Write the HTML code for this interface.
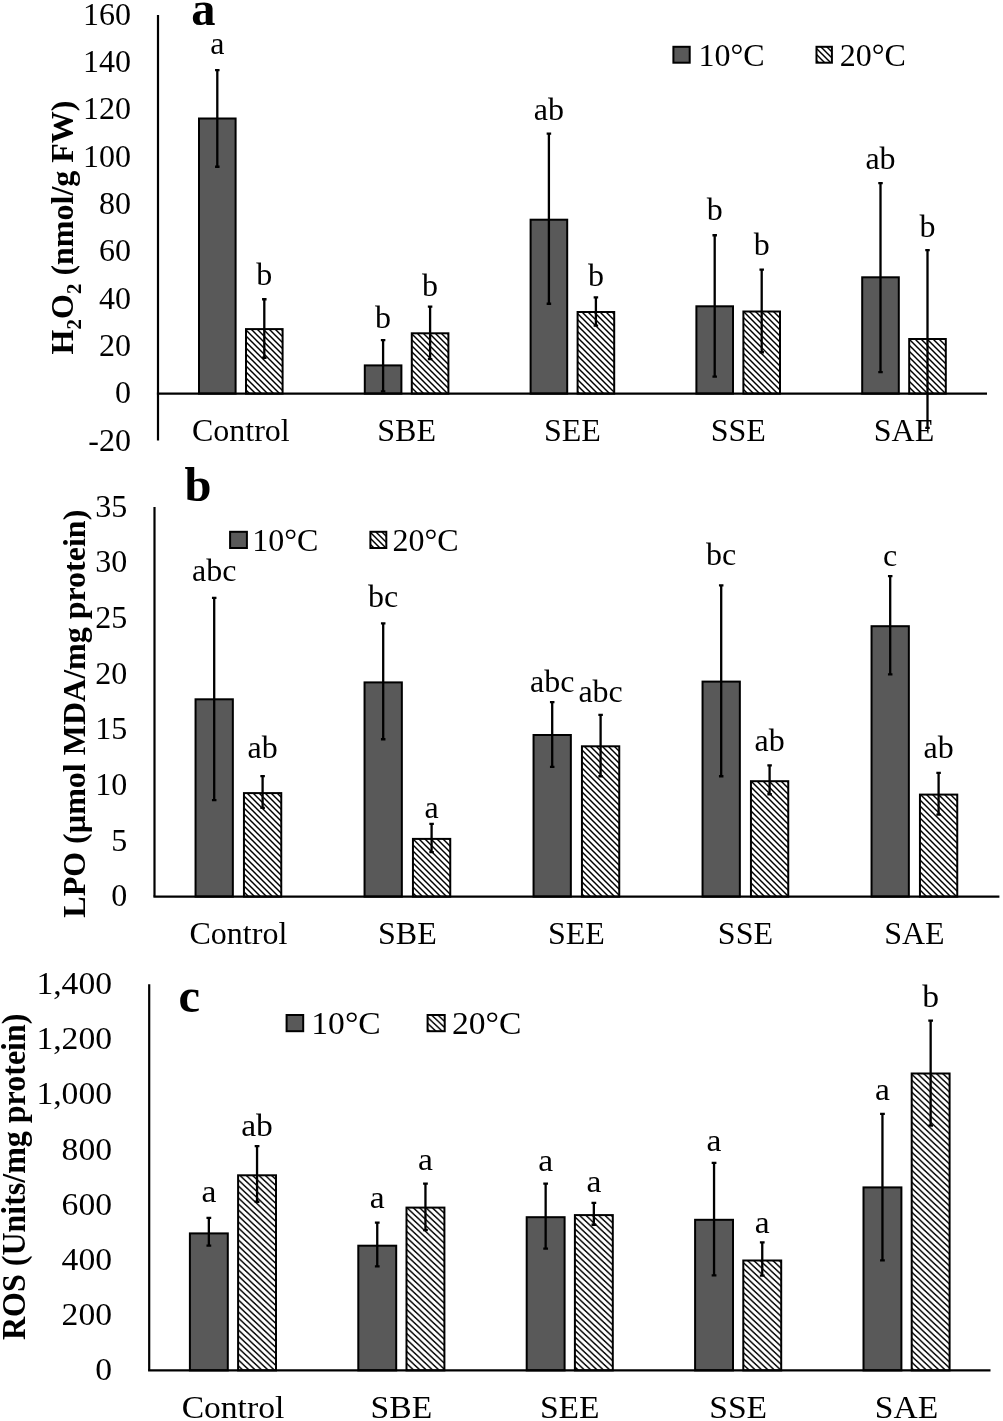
<!DOCTYPE html>
<html><head><meta charset="utf-8"><title>Chart</title>
<style>html,body{margin:0;padding:0;background:#fff;}svg{display:block;filter:grayscale(1);}text{font-family:"Liberation Serif",serif;fill:#000;}.b{font-weight:bold;}</style>
</head><body>
<svg width="1003" height="1421" viewBox="0 0 1003 1421">
<defs><pattern id="h" patternUnits="userSpaceOnUse" width="6" height="6"><rect width="6" height="6" fill="#fff"/><path d="M-1,-1 L7,7 M-1,5 L1,7 M5,-1 L7,1" stroke="#000" stroke-width="1.45"/></pattern><pattern id="hc" patternUnits="userSpaceOnUse" width="6.33" height="6"><rect width="6.33" height="6" fill="#fff"/><path d="M-1.055,-1 L7.385,7 M-1.055,5 L1.055,7 M5.275,-1 L7.385,1" stroke="#000" stroke-width="1.45"/></pattern></defs>
<rect width="1003" height="1421" fill="#fff"/>
<rect x="199" y="118.5" width="36.6" height="275.1" fill="#595959" stroke="#000" stroke-width="2"/>
<rect x="246" y="329.1" width="36.6" height="64.5" fill="url(#h)" stroke="#000" stroke-width="2"/>
<rect x="364.8" y="365.4" width="36.6" height="28.2" fill="#595959" stroke="#000" stroke-width="2"/>
<rect x="411.8" y="333.3" width="36.6" height="60.3" fill="url(#h)" stroke="#000" stroke-width="2"/>
<rect x="530.6" y="219.7" width="36.6" height="173.9" fill="#595959" stroke="#000" stroke-width="2"/>
<rect x="577.6" y="312" width="36.6" height="81.6" fill="url(#h)" stroke="#000" stroke-width="2"/>
<rect x="696.4" y="306.3" width="36.6" height="87.3" fill="#595959" stroke="#000" stroke-width="2"/>
<rect x="743.4" y="311.5" width="36.6" height="82.1" fill="url(#h)" stroke="#000" stroke-width="2"/>
<rect x="862.2" y="277.3" width="36.6" height="116.3" fill="#595959" stroke="#000" stroke-width="2"/>
<rect x="909.2" y="339" width="36.6" height="54.6" fill="url(#h)" stroke="#000" stroke-width="2"/>
<line x1="158" y1="15" x2="158" y2="440.5" stroke="#000" stroke-width="2.2"/>
<line x1="156.9" y1="393.6" x2="987" y2="393.6" stroke="#000" stroke-width="2.2"/>
<path d="M217.3,68.9V167.9M215.05,70.05H219.55M215.05,166.75H219.55" stroke="#000" stroke-width="2.3" fill="none"/>
<text x="217.3" y="54.2" text-anchor="middle" font-size="32">a</text>
<path d="M264.3,298.1V358.9M262.05,299.25H266.55M262.05,357.75H266.55" stroke="#000" stroke-width="2.3" fill="none"/>
<text x="264.3" y="284.9" text-anchor="middle" font-size="32">b</text>
<path d="M383.1,339V392.5M380.85,340.15H385.35M380.85,391.35H385.35" stroke="#000" stroke-width="2.3" fill="none"/>
<text x="383.1" y="328.4" text-anchor="middle" font-size="32">b</text>
<path d="M430.1,305.5V360.2M427.85,306.65H432.35M427.85,359.05H432.35" stroke="#000" stroke-width="2.3" fill="none"/>
<text x="430.1" y="296.4" text-anchor="middle" font-size="32">b</text>
<path d="M548.9,132.5V304.9M546.65,133.65H551.15M546.65,303.75H551.15" stroke="#000" stroke-width="2.3" fill="none"/>
<text x="548.9" y="119.6" text-anchor="middle" font-size="32">ab</text>
<path d="M595.9,296.2V326.7M593.65,297.35H598.15M593.65,325.55H598.15" stroke="#000" stroke-width="2.3" fill="none"/>
<text x="595.9" y="286.4" text-anchor="middle" font-size="32">b</text>
<path d="M714.7,234.1V377.8M712.45,235.25H716.95M712.45,376.65H716.95" stroke="#000" stroke-width="2.3" fill="none"/>
<text x="714.7" y="220.4" text-anchor="middle" font-size="32">b</text>
<path d="M761.7,268.4V353.4M759.45,269.55H763.95M759.45,352.25H763.95" stroke="#000" stroke-width="2.3" fill="none"/>
<text x="761.7" y="255.1" text-anchor="middle" font-size="32">b</text>
<path d="M880.5,181.9V373.2M878.25,183.05H882.75M878.25,372.05H882.75" stroke="#000" stroke-width="2.3" fill="none"/>
<text x="880.5" y="169.4" text-anchor="middle" font-size="32">ab</text>
<path d="M927.5,248.9V429M925.25,250.05H929.75M925.25,427.85H929.75" stroke="#000" stroke-width="2.3" fill="none"/>
<text x="927.5" y="237.4" text-anchor="middle" font-size="32">b</text>
<text x="131" y="450.73" text-anchor="end" font-size="32">-20</text>
<text x="131" y="403.4" text-anchor="end" font-size="32">0</text>
<text x="131" y="356.07" text-anchor="end" font-size="32">20</text>
<text x="131" y="308.74" text-anchor="end" font-size="32">40</text>
<text x="131" y="261.41" text-anchor="end" font-size="32">60</text>
<text x="131" y="214.08" text-anchor="end" font-size="32">80</text>
<text x="131" y="166.75" text-anchor="end" font-size="32">100</text>
<text x="131" y="119.42" text-anchor="end" font-size="32">120</text>
<text x="131" y="72.09" text-anchor="end" font-size="32">140</text>
<text x="131" y="24.76" text-anchor="end" font-size="32">160</text>
<text x="240.8" y="440.8" text-anchor="middle" font-size="32">Control</text>
<text x="406.6" y="440.8" text-anchor="middle" font-size="32">SBE</text>
<text x="572.4" y="440.8" text-anchor="middle" font-size="32">SEE</text>
<text x="738.2" y="440.8" text-anchor="middle" font-size="32">SSE</text>
<text x="904" y="440.8" text-anchor="middle" font-size="32">SAE</text>
<rect x="673.4" y="46.8" width="16.3" height="15.9" fill="#595959" stroke="#000" stroke-width="2"/>
<text x="698.4" y="66" font-size="32">10&#176;C</text>
<rect x="816.5" y="46.8" width="15.4" height="15.9" fill="url(#h)" stroke="#000" stroke-width="2"/>
<text x="839.7" y="66" font-size="32">20&#176;C</text>
<text class="b" x="191.3" y="25.3" style="font-size:48.5px">a</text>
<text class="b" transform="translate(73.2,354.4) rotate(-90)" font-size="32">H<tspan font-size="21" dy="7.6">2</tspan><tspan dy="-7.6">O</tspan><tspan font-size="21" dy="7.6">2</tspan><tspan dy="-7.6"> (nmol/g FW)</tspan></text>
<rect x="195.55" y="699.3" width="37.3" height="197.3" fill="#595959" stroke="#000" stroke-width="2"/>
<rect x="243.95" y="793.1" width="37.3" height="103.5" fill="url(#h)" stroke="#000" stroke-width="2"/>
<rect x="364.55" y="682.4" width="37.3" height="214.2" fill="#595959" stroke="#000" stroke-width="2"/>
<rect x="412.95" y="838.9" width="37.3" height="57.7" fill="url(#h)" stroke="#000" stroke-width="2"/>
<rect x="533.55" y="735" width="37.3" height="161.6" fill="#595959" stroke="#000" stroke-width="2"/>
<rect x="581.95" y="746.3" width="37.3" height="150.3" fill="url(#h)" stroke="#000" stroke-width="2"/>
<rect x="702.55" y="681.6" width="37.3" height="215" fill="#595959" stroke="#000" stroke-width="2"/>
<rect x="750.95" y="781.2" width="37.3" height="115.4" fill="url(#h)" stroke="#000" stroke-width="2"/>
<rect x="871.55" y="626.2" width="37.3" height="270.4" fill="#595959" stroke="#000" stroke-width="2"/>
<rect x="919.95" y="794.6" width="37.3" height="102" fill="url(#h)" stroke="#000" stroke-width="2"/>
<line x1="154.5" y1="507" x2="154.5" y2="896.6" stroke="#000" stroke-width="2.2"/>
<line x1="153.4" y1="896.6" x2="999.4" y2="896.6" stroke="#000" stroke-width="2.2"/>
<path d="M214.2,596.8V801.2M211.95,597.95H216.45M211.95,800.05H216.45" stroke="#000" stroke-width="2.3" fill="none"/>
<text x="214.2" y="581.2" text-anchor="middle" font-size="32">abc</text>
<path d="M262.6,774.9V809.1M260.35,776.05H264.85M260.35,807.95H264.85" stroke="#000" stroke-width="2.3" fill="none"/>
<text x="262.6" y="757.8" text-anchor="middle" font-size="32">ab</text>
<path d="M383.2,622.3V740.4M380.95,623.45H385.45M380.95,739.25H385.45" stroke="#000" stroke-width="2.3" fill="none"/>
<text x="383.2" y="607.2" text-anchor="middle" font-size="32">bc</text>
<path d="M431.6,822.8V853.2M429.35,823.95H433.85M429.35,852.05H433.85" stroke="#000" stroke-width="2.3" fill="none"/>
<text x="431.6" y="818" text-anchor="middle" font-size="32">a</text>
<path d="M552.2,700.9V768.1M549.95,702.05H554.45M549.95,766.95H554.45" stroke="#000" stroke-width="2.3" fill="none"/>
<text x="552.2" y="691.5" text-anchor="middle" font-size="32">abc</text>
<path d="M600.6,713.7V777.4M598.35,714.85H602.85M598.35,776.25H602.85" stroke="#000" stroke-width="2.3" fill="none"/>
<text x="600.6" y="702.3" text-anchor="middle" font-size="32">abc</text>
<path d="M721.2,584.3V777.4M718.95,585.45H723.45M718.95,776.25H723.45" stroke="#000" stroke-width="2.3" fill="none"/>
<text x="721.2" y="565" text-anchor="middle" font-size="32">bc</text>
<path d="M769.6,764.2V795.4M767.35,765.35H771.85M767.35,794.25H771.85" stroke="#000" stroke-width="2.3" fill="none"/>
<text x="769.6" y="751.3" text-anchor="middle" font-size="32">ab</text>
<path d="M890.2,574.9V675.5M887.95,576.05H892.45M887.95,674.35H892.45" stroke="#000" stroke-width="2.3" fill="none"/>
<text x="890.2" y="565.7" text-anchor="middle" font-size="32">c</text>
<path d="M938.6,771.7V815.7M936.35,772.85H940.85M936.35,814.55H940.85" stroke="#000" stroke-width="2.3" fill="none"/>
<text x="938.6" y="758" text-anchor="middle" font-size="32">ab</text>
<text x="127.3" y="906.4" text-anchor="end" font-size="32">0</text>
<text x="127.3" y="850.74" text-anchor="end" font-size="32">5</text>
<text x="127.3" y="795.08" text-anchor="end" font-size="32">10</text>
<text x="127.3" y="739.42" text-anchor="end" font-size="32">15</text>
<text x="127.3" y="683.76" text-anchor="end" font-size="32">20</text>
<text x="127.3" y="628.1" text-anchor="end" font-size="32">25</text>
<text x="127.3" y="572.44" text-anchor="end" font-size="32">30</text>
<text x="127.3" y="516.78" text-anchor="end" font-size="32">35</text>
<text x="238.4" y="943.6" text-anchor="middle" font-size="32">Control</text>
<text x="407.4" y="943.6" text-anchor="middle" font-size="32">SBE</text>
<text x="576.4" y="943.6" text-anchor="middle" font-size="32">SEE</text>
<text x="745.4" y="943.6" text-anchor="middle" font-size="32">SSE</text>
<text x="914.4" y="943.6" text-anchor="middle" font-size="32">SAE</text>
<rect x="230.1" y="531.8" width="16.8" height="16.2" fill="#595959" stroke="#000" stroke-width="2"/>
<text x="252.2" y="551.3" font-size="32">10&#176;C</text>
<rect x="370.4" y="531.8" width="15.9" height="16.2" fill="url(#h)" stroke="#000" stroke-width="2"/>
<text x="392.4" y="551.3" font-size="32">20&#176;C</text>
<text class="b" x="184.6" y="500.5" style="font-size:48.5px">b</text>
<text class="b" transform="translate(85,917.7) rotate(-90)" font-size="32">LPO (&#181;mol MDA/mg protein)</text>
<rect x="189.9" y="1233.4" width="37.9" height="137" fill="#595959" stroke="#000" stroke-width="2"/>
<rect x="238.1" y="1175.3" width="37.9" height="195.1" fill="url(#hc)" stroke="#000" stroke-width="2"/>
<rect x="358.3" y="1245.7" width="37.9" height="124.7" fill="#595959" stroke="#000" stroke-width="2"/>
<rect x="406.5" y="1207.6" width="37.9" height="162.8" fill="url(#hc)" stroke="#000" stroke-width="2"/>
<rect x="526.7" y="1217.2" width="37.9" height="153.2" fill="#595959" stroke="#000" stroke-width="2"/>
<rect x="574.9" y="1215.1" width="37.9" height="155.3" fill="url(#hc)" stroke="#000" stroke-width="2"/>
<rect x="695.1" y="1219.8" width="37.9" height="150.6" fill="#595959" stroke="#000" stroke-width="2"/>
<rect x="743.3" y="1260.5" width="37.9" height="109.9" fill="url(#hc)" stroke="#000" stroke-width="2"/>
<rect x="863.5" y="1187.4" width="37.9" height="183" fill="#595959" stroke="#000" stroke-width="2"/>
<rect x="911.7" y="1073.5" width="37.9" height="296.9" fill="url(#hc)" stroke="#000" stroke-width="2"/>
<line x1="149.2" y1="984.2" x2="149.2" y2="1370.4" stroke="#000" stroke-width="2.2"/>
<line x1="148.1" y1="1370.4" x2="990.5" y2="1370.4" stroke="#000" stroke-width="2.2"/>
<path d="M208.85,1216.7V1246.8M206.47,1217.85H211.22M206.47,1245.65H211.22" stroke="#000" stroke-width="2.3" fill="none"/>
<text transform="translate(208.85,1201.5) scale(1.05,1)" text-anchor="middle" font-size="32">a</text>
<path d="M257.05,1144.9V1202.9M254.68,1146.05H259.43M254.68,1201.75H259.43" stroke="#000" stroke-width="2.3" fill="none"/>
<text transform="translate(257.05,1135.5) scale(1.05,1)" text-anchor="middle" font-size="32">ab</text>
<path d="M377.25,1221.5V1267.6M374.88,1222.65H379.62M374.88,1266.45H379.62" stroke="#000" stroke-width="2.3" fill="none"/>
<text transform="translate(377.25,1208.4) scale(1.05,1)" text-anchor="middle" font-size="32">a</text>
<path d="M425.45,1182.4V1231.2M423.08,1183.55H427.83M423.08,1230.05H427.83" stroke="#000" stroke-width="2.3" fill="none"/>
<text transform="translate(425.45,1170.1) scale(1.05,1)" text-anchor="middle" font-size="32">a</text>
<path d="M545.65,1182.4V1249.7M543.27,1183.55H548.02M543.27,1248.55H548.02" stroke="#000" stroke-width="2.3" fill="none"/>
<text transform="translate(545.65,1170.6) scale(1.05,1)" text-anchor="middle" font-size="32">a</text>
<path d="M593.85,1201.8V1225.9M591.48,1202.95H596.23M591.48,1224.75H596.23" stroke="#000" stroke-width="2.3" fill="none"/>
<text transform="translate(593.85,1191.7) scale(1.05,1)" text-anchor="middle" font-size="32">a</text>
<path d="M714.05,1161.7V1276.5M711.67,1162.85H716.42M711.67,1275.35H716.42" stroke="#000" stroke-width="2.3" fill="none"/>
<text transform="translate(714.05,1150.6) scale(1.05,1)" text-anchor="middle" font-size="32">a</text>
<path d="M762.25,1241.2V1276.8M759.88,1242.35H764.62M759.88,1275.65H764.62" stroke="#000" stroke-width="2.3" fill="none"/>
<text transform="translate(762.25,1232.6) scale(1.05,1)" text-anchor="middle" font-size="32">a</text>
<path d="M882.45,1112.8V1261.5M880.08,1113.95H884.83M880.08,1260.35H884.83" stroke="#000" stroke-width="2.3" fill="none"/>
<text transform="translate(882.45,1099.6) scale(1.05,1)" text-anchor="middle" font-size="32">a</text>
<path d="M930.65,1019.4V1126.8M928.28,1020.55H933.03M928.28,1125.65H933.03" stroke="#000" stroke-width="2.3" fill="none"/>
<text transform="translate(930.65,1007.4) scale(1.05,1)" text-anchor="middle" font-size="32">b</text>
<text transform="translate(112,1380.2) scale(1.05,1)" text-anchor="end" font-size="32">0</text>
<text transform="translate(112,1325.03) scale(1.05,1)" text-anchor="end" font-size="32">200</text>
<text transform="translate(112,1269.86) scale(1.05,1)" text-anchor="end" font-size="32">400</text>
<text transform="translate(112,1214.69) scale(1.05,1)" text-anchor="end" font-size="32">600</text>
<text transform="translate(112,1159.52) scale(1.05,1)" text-anchor="end" font-size="32">800</text>
<text transform="translate(112,1104.35) scale(1.05,1)" text-anchor="end" font-size="32">1,000</text>
<text transform="translate(112,1049.18) scale(1.05,1)" text-anchor="end" font-size="32">1,200</text>
<text transform="translate(112,994.01) scale(1.05,1)" text-anchor="end" font-size="32">1,400</text>
<text transform="translate(232.95,1417.7) scale(1.05,1)" text-anchor="middle" font-size="32">Control</text>
<text transform="translate(401.35,1417.7) scale(1.05,1)" text-anchor="middle" font-size="32">SBE</text>
<text transform="translate(569.75,1417.7) scale(1.05,1)" text-anchor="middle" font-size="32">SEE</text>
<text transform="translate(738.15,1417.7) scale(1.05,1)" text-anchor="middle" font-size="32">SSE</text>
<text transform="translate(906.55,1417.7) scale(1.05,1)" text-anchor="middle" font-size="32">SAE</text>
<rect x="286.6" y="1015" width="16.6" height="16.2" fill="#595959" stroke="#000" stroke-width="2"/>
<text transform="translate(311.3,1034) scale(1.05,1)" font-size="32">10&#176;C</text>
<rect x="427.6" y="1015" width="17.1" height="16.2" fill="url(#hc)" stroke="#000" stroke-width="2"/>
<text transform="translate(451.9,1034) scale(1.05,1)" font-size="32">20&#176;C</text>
<text class="b" x="178.4" y="1011.8" style="font-size:48.5px">c</text>
<text class="b" transform="translate(25.2,1340) scale(1.05,1) rotate(-90)" font-size="32">ROS (Units/mg protein)</text>
</svg>
</body></html>
